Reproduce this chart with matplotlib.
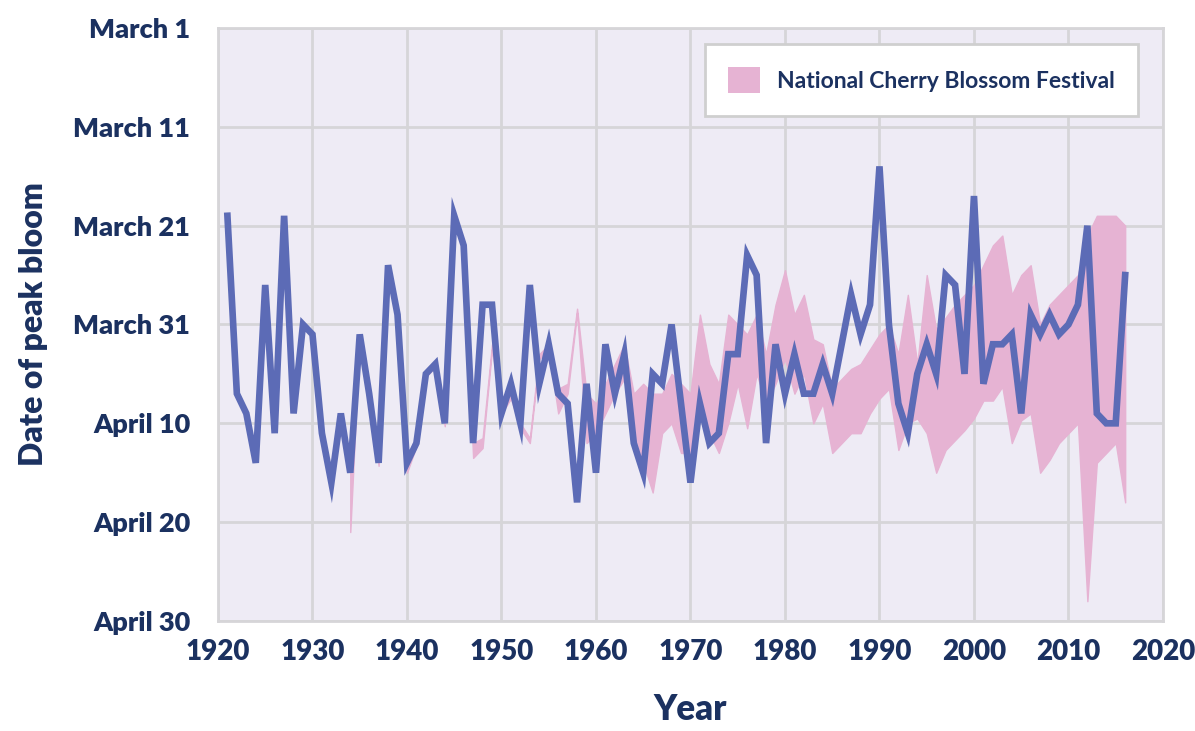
import matplotlib.pyplot as plt
from matplotlib.patches import Patch

# peak bloom, days after March 1 (0 = March 1, 60 = April 30)
years = list(range(1921, 2017))
bloom = [19, 37, 39, 44, 26, 41, 19, 39, 30, 31,
         41, 46, 39, 45, 31, 37, 44, 24, 29, 44,
         42, 35, 34, 40, 19, 22, 42, 28, 28, 39,
         36, 40, 26, 36, 32, 37, 38, 48, 36, 45,
         32, 37, 33, 42, 45, 35, 36, 30, 38, 46,
         38, 42, 41, 33, 33, 23, 25, 42, 32, 37,
         33, 37, 37, 34, 37, 32, 27, 31, 28, 14,
         30, 38, 41, 35, 32, 35, 25, 26, 35, 17,
         36, 32, 32, 31, 39, 29, 31, 29, 31, 30,
         28, 20, 39, 40, 40, 25]

# festival first/last day, same units
fest_years = list(range(1934, 2017))
fest_start = [45, 31, 37, 44, 24, 29, 44,
              42, 35, 34, 40, 19, 22, 42, 41.5, 32, 38,
              36, 40, 41.5, 33, 32, 36.5, 36, 28.4, 37, 38,
              36, 34, 32, 37, 36, 37, 37, 35, 36, 37,
              29, 34, 36, 29, 30, 31, 29, 33, 28, 24.5,
              29, 27, 31.5, 32, 36.5, 35.5, 34.5, 34, 32.5, 31,
              30, 33, 27, 34, 25, 30.5, 29.3, 28, 27, 26,
              24, 22, 21, 27, 25, 24, 30, 28, 27, 26,
              25, 21, 19, 19, 19, 20]
fest_end = [51, 31.3, 37.3, 44.3, 24.3, 29.3, 45,
            42.3, 35.3, 34.3, 40.3, 19.3, 22.3, 43.5, 42.5, 32.5, 39,
            37.5, 40.5, 42, 33.5, 32.5, 39, 37, 28.8, 42, 41,
            39, 37, 35.5, 41, 44, 47, 41, 40, 43, 43,
            38.5, 41, 43, 40, 36, 40.5, 35, 38, 36, 33.5,
            37, 35, 40, 38, 43, 42, 41, 41, 39, 37.5,
            36.5, 42.7, 40, 39.5, 41, 45, 42.7, 41.7, 40.7, 39.5,
            37.7, 37.7, 36.3, 42, 39.7, 39, 45, 43.7, 42, 41,
            40, 58, 44, 43, 42, 48]

date_ticks = [0, 10, 20, 30, 40, 50, 60]
date_labels = ["March 1", "March 11", "March 21", "March 31",
               "April 10", "April 20", "April 30"]
year_ticks = list(range(1920, 2021, 10))

navy = "#1b3160"
pink = "#e6b3d3"
blue = "#5c6bb6"

plt.rcParams["font.family"] = ["Lato", "DejaVu Sans"]

fig = plt.figure(figsize=(11.95, 7.31), dpi=100)
ax = fig.add_axes([0.1824, 0.1505, 0.7908, 0.8112])
ax.set_facecolor("#eeebf5")

ax.fill_between(fest_years, fest_start, fest_end, facecolor=pink,
                edgecolor=pink, lw=1.0, zorder=2)
ax.plot(years, bloom, color=blue, lw=4.8, solid_joinstyle="miter", zorder=3)

ax.set_xlim(1920, 2020)
ax.set_ylim(60, 0)
ax.set_xticks(year_ticks)
ax.set_yticks(date_ticks)
ax.set_yticklabels(date_labels)
ax.grid(True, color="#d6d5d8", lw=2)
ax.set_axisbelow(True)
for s in ax.spines.values():
    s.set_color("#d6d5d8")
    s.set_linewidth(2)
ax.tick_params(length=0, colors=navy)
ax.tick_params(axis="y", pad=20, labelsize=19.5)
ax.tick_params(axis="x", pad=13, labelsize=20)
for lab in ax.get_xticklabels() + ax.get_yticklabels():
    lab.set_fontweight("heavy")

ax.set_ylabel("Date of peak bloom", fontsize=23, fontweight="heavy",
              color=navy, labelpad=18)
ax.set_xlabel("Year", fontsize=25, fontweight="heavy", color=navy, labelpad=20)

leg = ax.legend([Patch(facecolor=pink, edgecolor="none")],
                ["National Cherry Blossom Festival"], loc="upper right",
                bbox_to_anchor=(0.9735, 0.973), borderaxespad=0,
                fancybox=False, framealpha=1,
                handlelength=1.4, handleheight=1.4, borderpad=1.0,
                handletextpad=0.75, prop={"size": 16.5, "weight": "bold"})
leg.get_frame().set_edgecolor("#cfcfcf")
leg.get_frame().set_linewidth(2)
for t in leg.get_texts():
    t.set_color(navy)

fig.savefig("out.png", dpi=100)
